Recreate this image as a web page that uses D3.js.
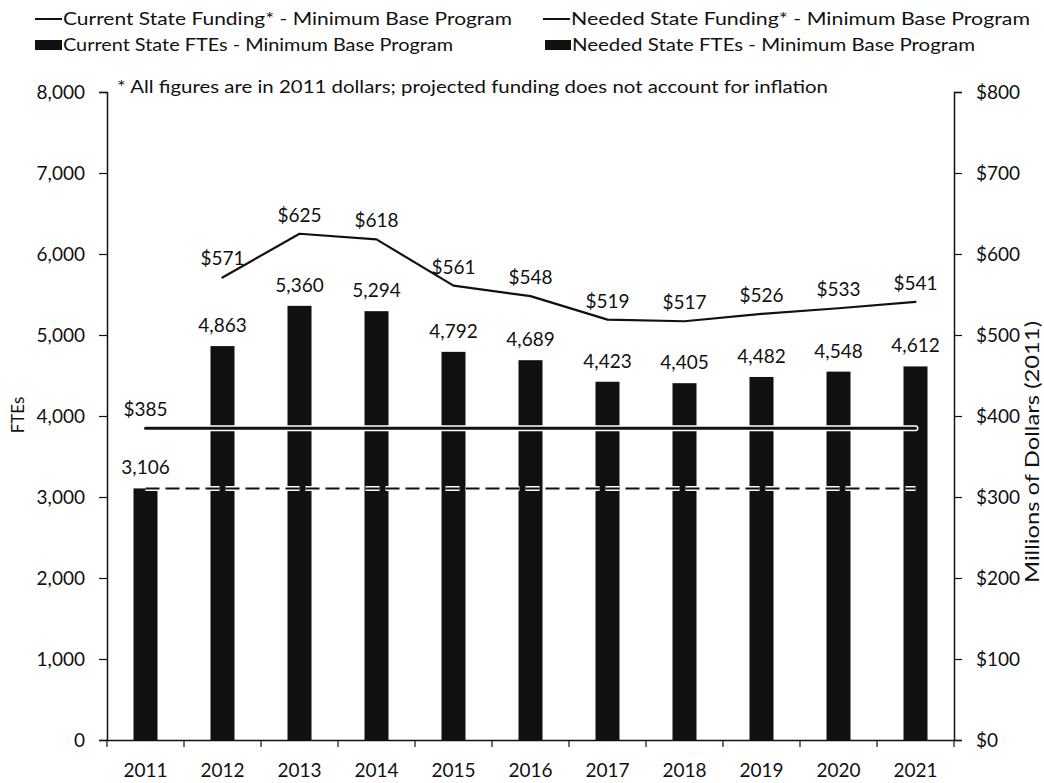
<!DOCTYPE html>
<html><head><meta charset="utf-8">
<script src="https://cdn.jsdelivr.net/npm/d3@7"></script>
<style>
html,body{margin:0;padding:0;background:#fff;}
svg{display:block;font-family:Lato,"Open Sans",sans-serif;}
</style></head>
<body>
<svg id="chart" width="1044" height="783"></svg>
<script>
const years = ["2011","2012","2013","2014","2015","2016","2017","2018","2019","2020","2021"];
const currentFTEs = [3106, null, null, null, null, null, null, null, null, null, null];
const neededFTEs = [null, 4863, 5360, 5294, 4792, 4689, 4423, 4405, 4482, 4548, 4612];
const currentFTEsTrend = [3106, 3106, 3106, 3106, 3106, 3106, 3106, 3106, 3106, 3106, 3106];
const currentFunding = [385, 385, 385, 385, 385, 385, 385, 385, 385, 385, 385];
const neededFunding = [null, 571, 625, 618, 561, 548, 519, 517, 526, 533, 541];
const leftTicks = [0, 1000, 2000, 3000, 4000, 5000, 6000, 7000, 8000];
const rightTicks = [0, 100, 200, 300, 400, 500, 600, 700, 800];
const legendItems = [
  {label: "Current State Funding* - Minimum Base Program", type: "line"},
  {label: "Needed State Funding* - Minimum Base Program", type: "line"},
  {label: "Current State FTEs - Minimum Base Program", type: "bar"},
  {label: "Needed State FTEs - Minimum Base Program", type: "bar"}
];
const footnote = "* All figures are in 2011 dollars; projected funding does not account for inflation";

const svg = d3.select("#chart");
const X0 = 107, X1 = 954, Y0 = 740, Y1 = 92;
const ink = "#111";

const x = d3.scaleBand().domain(years).range([X0, X1]).padding(0);
const yL = d3.scaleLinear().domain([0, 8000]).range([Y0, Y1]);
const yR = d3.scaleLinear().domain([0, 800]).range([Y0, Y1]);
const cx = d => x(d) + x.bandwidth() / 2;
const barW = 24;

// Bars
const barData = years.map((yr, i) => ({yr, v: currentFTEs[i] != null ? currentFTEs[i] : neededFTEs[i]})).filter(d => d.v != null);
svg.append("g").selectAll("rect").data(barData).join("rect")
  .attr("x", d => cx(d.yr) - barW / 2).attr("width", barW)
  .attr("y", d => yL(d.v)).attr("height", d => yL(0) - yL(d.v))
  .attr("fill", ink);

// Lines with white halo
function drawLine(vals, scale, dash, w) {
  const data = years.map((yr, i) => ({yr, v: vals[i]})).filter(d => d.v != null);
  const gen = d3.line().x(d => cx(d.yr)).y(d => scale(d.v));
  svg.append("path").datum(data).attr("d", gen).attr("fill", "none")
    .attr("stroke", "#fff").attr("stroke-width", w + 3).attr("stroke-dasharray", dash || null)
    .attr("stroke-linecap", dash ? "butt" : "round");
  svg.append("path").datum(data).attr("d", gen).attr("fill", "none")
    .attr("stroke", ink).attr("stroke-width", w).attr("stroke-dasharray", dash || null)
    .attr("stroke-linejoin", "round").attr("stroke-linecap", dash ? "butt" : "round");
}
drawLine(currentFTEsTrend, yL, "14,6", 2);
drawLine(currentFunding, yR, null, 3);
drawLine(neededFunding, yR, null, 2.2);

// Data labels
const lblFont = 19;
const fmt = d3.format(",");
svg.append("g").selectAll("text").data(barData).join("text")
  .attr("x", d => cx(d.yr)).attr("y", d => yL(d.v) - 14)
  .attr("text-anchor", "middle").attr("font-size", lblFont).attr("fill", ink)
  .text(d => fmt(d.v));
const fundLabels = years.map((yr, i) => ({yr, v: neededFunding[i]})).filter(d => d.v != null);
fundLabels.unshift({yr: years[0], v: currentFunding[0]});
svg.append("g").selectAll("text").data(fundLabels).join("text")
  .attr("x", d => cx(d.yr)).attr("y", d => yR(d.v) - 12)
  .attr("text-anchor", "middle").attr("font-size", lblFont).attr("fill", ink)
  .text(d => "$" + d.v);

// Axes
const minorL = d3.range(0, 8001, 250).filter(v => v % 1000 !== 0);
const minorR = d3.range(0, 801, 25).filter(v => v % 100 !== 0);
const gL = svg.append("g").attr("transform", `translate(${X0},0)`);
gL.call(d3.axisLeft(yL).tickValues(minorL).tickSize(4).tickFormat(""));
gL.call(d3.axisLeft(yL).tickValues(leftTicks).tickSize(8).tickPadding(14).tickFormat(d3.format(",")));
const gR = svg.append("g").attr("transform", `translate(${X1},0)`);
gR.call(d3.axisRight(yR).tickValues(minorR).tickSize(4).tickFormat(""));
gR.call(d3.axisRight(yR).tickValues(rightTicks).tickSize(8).tickPadding(14).tickFormat(d => "$" + d));
[gL, gR].forEach(g => {
  g.selectAll(".domain").attr("stroke", ink).attr("stroke-width", 1.5);
  g.selectAll(".tick line").attr("stroke", ink).attr("stroke-width", 1.2);
  g.selectAll("text").attr("font-size", 19).attr("font-family", "Lato").attr("fill", ink);
});

const gX = svg.append("g").attr("transform", `translate(0,${Y0})`);
gX.call(d3.axisBottom(x).tickSize(0).tickPadding(24));
gX.selectAll(".tick text").attr("font-size", 19).attr("font-family", "Lato").attr("fill", ink);
gX.select(".domain").attr("stroke", ink).attr("stroke-width", 1.5);
gX.selectAll(".bnd").data(years.slice(1).concat(["end"])).join("line")
  .attr("x1", (d, i) => X0 + (i + 1) * x.bandwidth()).attr("x2", (d, i) => X0 + (i + 1) * x.bandwidth())
  .attr("y1", 0).attr("y2", 7).attr("stroke", ink).attr("stroke-width", 1.2);
gX.append("line").attr("x1", X0).attr("x2", X0).attr("y1", 0).attr("y2", 7).attr("stroke", ink).attr("stroke-width", 1.2);

// Axis titles
svg.append("text").attr("transform", "translate(24,415) rotate(-90)")
  .attr("text-anchor", "middle").attr("font-size", 17).attr("fill", ink).text("FTEs");
svg.append("text").attr("transform", "translate(1039,452) rotate(-90)")
  .attr("text-anchor", "middle").attr("font-size", 19).attr("fill", ink)
  .attr("textLength", 262).attr("lengthAdjust", "spacingAndGlyphs").text("Millions of Dollars (2011)");

// Footnote
svg.append("text").attr("x", 117).attr("y", 93).attr("font-size", 17).attr("fill", ink)
  .attr("textLength", 711).attr("lengthAdjust", "spacingAndGlyphs").text(footnote);

// Legend
const legPos = [
  {sx: 35, tx: 63, y: 19, w: 449},
  {sx: 543, tx: 571, y: 19, w: 459},
  {sx: 35, tx: 63, y: 45, w: 390},
  {sx: 545, tx: 572, y: 45, w: 403}
];
legendItems.forEach((it, i) => {
  const p = legPos[i];
  if (it.type === "line") {
    svg.append("line").attr("x1", p.sx).attr("x2", p.tx - 1).attr("y1", p.y).attr("y2", p.y)
      .attr("stroke", ink).attr("stroke-width", 2);
  } else {
    svg.append("rect").attr("x", p.sx).attr("y", p.y - 5).attr("width", p.tx - p.sx - 1).attr("height", 10).attr("fill", ink);
  }
  svg.append("text").attr("x", p.tx).attr("y", p.y + 6).attr("font-size", 18).attr("fill", ink)
    .attr("textLength", p.w).attr("lengthAdjust", "spacingAndGlyphs").text(it.label);
});
</script>
</body></html>
